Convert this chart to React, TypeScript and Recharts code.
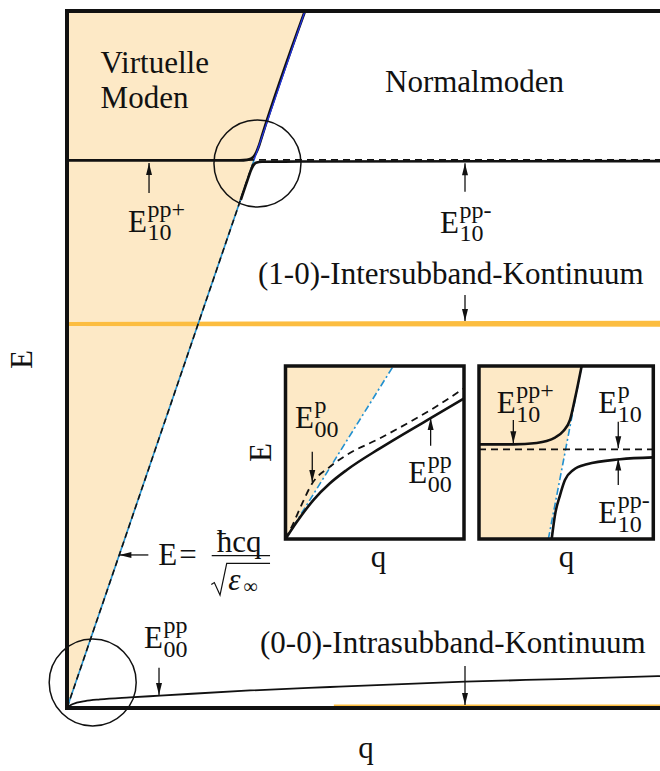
import React from "react";
import { ComposedChart, Line, Area, Scatter, XAxis, YAxis } from "recharts";

const FONT = "'Liberation Serif', 'Times New Roman', serif";
const INK = "#111";
const ORANGE_FILL = "#FDE9C6";
const ORANGE_LINE = "#FCBD40";
const LIGHT_BLUE = "#2190D0";
const DEEP_BLUE = "#2233E0";

// ---------- main panel: q in [0, 6], E in [0, 7] ----------
const Q_MAX = 6;
const E_MAX = 7;

const virtualRegion = [
  { q: 0, band: [0, 7] },
  { q: 2.408, band: [7, 7] },
];
const interBandEdge = [
  { q: 0, band: [3.837, 3.877] },
  { q: 6, band: [3.829, 3.889] },
];
const intraBandEdge = [
  { q: 2.7, band: [0, 0.035] },
  { q: 6, band: [0, 0.035] },
];

const lightLineLow = [
  { q: 0, E: 0 },
  { q: 1.893, E: 5.504 },
];
const lightLineHigh = [
  { q: 1.893, E: 5.504 },
  { q: 2.408, E: 7 },
];
const photonLine = [
  { q: 0, E: 0 },
  { q: 1.88, E: 5.465 },
];
const plasmon10 = [
  { q: 0, E: 5.504 },
  { q: 6, E: 5.504 },
];
const upperBranch10 = [
  { q: 0, E: 5.499 },
  { q: 1.75, E: 5.499 },
  { q: 1.821, E: 5.504 },
  { q: 1.862, E: 5.516 },
  { q: 1.892, E: 5.541 },
  { q: 1.917, E: 5.584 },
  { q: 1.943, E: 5.649 },
  { q: 1.973, E: 5.745 },
  { q: 2.408, E: 7 },
];
const lowerBranch10 = [
  { q: 1.758, E: 5.102 },
  { q: 1.823, E: 5.293 },
  { q: 1.866, E: 5.412 },
  { q: 1.885, E: 5.448 },
  { q: 1.912, E: 5.476 },
  { q: 1.973, E: 5.486 },
  { q: 2.358, E: 5.488 },
  { q: 6, E: 5.492 },
];
const branch00 = [
  { q: 0, E: 0 },
  { q: 0.03, E: 0.025 },
  { q: 0.098, E: 0.053 },
  { q: 0.182, E: 0.07 },
  { q: 0.334, E: 0.087 },
  { q: 0.637, E: 0.107 },
  { q: 0.941, E: 0.124 },
  { q: 1.852, E: 0.176 },
  { q: 2.661, E: 0.211 },
  { q: 4.027, E: 0.264 },
  { q: 4.989, E: 0.291 },
  { q: 6, E: 0.321 },
];
const mainFrame = [
  { q: 6, E: 7 },
  { q: 0, E: 7 },
  { q: 0, E: 0 },
  { q: 6, E: 0 },
];

const arrowPP10Plus = [
  { q: 0.83, E: 5.172 },
  { q: 0.83, E: 5.474, dir: "up" },
];
const arrowPP10Minus = [
  { q: 4.027, E: 5.185 },
  { q: 4.027, E: 5.471, dir: "up" },
];
const arrowInter = [
  { q: 4.027, E: 4.148 },
  { q: 4.027, E: 3.887, dir: "down" },
];
const arrowPP00 = [
  { q: 0.931, E: 0.405 },
  { q: 0.931, E: 0.131, dir: "down" },
];
const arrowIntra = [
  { q: 4.027, E: 0.422 },
  { q: 4.027, E: 0.03, dir: "down" },
];
const arrowLight = [
  { q: 0.823, E: 1.537 },
  { q: 0.53, E: 1.537, dir: "left" },
];

const focusCircles = [
  { q: 1.927, E: 5.468 },
  { q: 0.26, E: 0.256 },
];

const mainTexts = [
  { q: 0.34, E: 6.374, text: "Virtuelle" },
  { q: 0.34, E: 6.023, text: "Moden" },
  { q: 3.218, E: 6.19, text: "Normalmoden" },
  { q: 1.933, E: 4.258, text: "(1-0)-Intersubband-Kontinuum" },
  { q: 1.953, E: 0.549, text: "(0-0)-Intrasubband-Kontinuum" },
];
const mainEnergyLabels = [
  { q: 0.617, E: 4.781, sup: "pp+", sub: "10" },
  { q: 3.774, E: 4.774, sup: "pp-", sub: "10" },
  { q: 0.779, E: 0.6, sup: "pp", sub: "00" },
];
const lightFormula = [{ q: 0.924, E: 1.436 }];

// ---------- inset panels: q in [0, 1], E in [0, 1] ----------
const insetFrame = [
  { q: 0, E: 0 },
  { q: 0, E: 1 },
  { q: 1, E: 1 },
  { q: 1, E: 0 },
  { q: 0, E: 0 },
];

const leftVirtual = [
  { q: 0, band: [0, 1] },
  { q: 0.604, band: [1, 1] },
];
const leftLight = [
  { q: 0, E: 0 },
  { q: 0.604, E: 1 },
];
const leftPlasmon00 = [
  { q: 0, E: 0 },
  { q: 0.044, E: 0.091 },
  { q: 0.081, E: 0.177 },
  { q: 0.15, E: 0.322 },
  { q: 0.249, E: 0.418 },
  { q: 0.343, E: 0.486 },
  { q: 0.529, E: 0.582 },
  { q: 0.716, E: 0.688 },
  { q: 0.813, E: 0.746 },
  { q: 1, E: 0.871 },
];
const leftPolariton00 = [
  { q: 0, E: 0 },
  { q: 0.063, E: 0.098 },
  { q: 0.156, E: 0.225 },
  { q: 0.249, E: 0.322 },
  { q: 0.343, E: 0.399 },
  { q: 0.529, E: 0.524 },
  { q: 0.716, E: 0.64 },
  { q: 0.813, E: 0.698 },
  { q: 1, E: 0.813 },
];
const leftLabels = [
  { q: 0.053, E: 0.64, sup: "p", sub: "00" },
  { q: 0.688, E: 0.322, sup: "pp", sub: "00" },
];
const leftArrowP = [
  { q: 0.15, E: 0.505 },
  { q: 0.15, E: 0.33, dir: "down" },
];
const leftArrowPP = [
  { q: 0.813, E: 0.539 },
  { q: 0.813, E: 0.7, dir: "up" },
];

const rightVirtual = [
  { q: 0, band: [0, 1] },
  { q: 0.398, band: [0, 1] },
  { q: 0.589, band: [1, 1] },
];
const rightLight = [
  { q: 0.398, E: 0 },
  { q: 0.589, E: 1 },
];
const rightPlasmon10 = [
  { q: 0, E: 0.518 },
  { q: 1, E: 0.518 },
];
const rightUpper10 = [
  { q: 0, E: 0.547 },
  { q: 0.197, E: 0.547 },
  { q: 0.331, E: 0.555 },
  { q: 0.388, E: 0.566 },
  { q: 0.436, E: 0.586 },
  { q: 0.484, E: 0.624 },
  { q: 0.522, E: 0.688 },
  { q: 0.551, E: 0.813 },
  { q: 0.589, E: 1 },
];
const rightLower10 = [
  { q: 0.417, E: 0 },
  { q: 0.436, E: 0.139 },
  { q: 0.465, E: 0.254 },
  { q: 0.493, E: 0.341 },
  { q: 0.541, E: 0.399 },
  { q: 0.618, E: 0.432 },
  { q: 0.809, E: 0.461 },
  { q: 1, E: 0.472 },
];
const rightLabels = [
  { q: 0.102, E: 0.727, sup: "pp+", sub: "10" },
  { q: 0.684, E: 0.727, sup: "p", sub: "10" },
  { q: 0.684, E: 0.091, sup: "pp-", sub: "10" },
];
const rightArrowPlus = [
  { q: 0.197, E: 0.688 },
  { q: 0.197, E: 0.553, dir: "down" },
];
const rightArrowP = [
  { q: 0.799, E: 0.678 },
  { q: 0.799, E: 0.524, dir: "down" },
];
const rightArrowMinus = [
  { q: 0.799, E: 0.312 },
  { q: 0.799, E: 0.466, dir: "up" },
];

// ---------- drawing helpers ----------
const textStyle = { fontFamily: FONT, fontSize: 31, fill: INK };

const ArrowHead = (p: any) => {
  const { cx, cy, payload, index } = p;
  if (!payload || !payload.dir || cx == null || cy == null) return <g key={`ah${index}`} />;
  const L = 12;
  const W = 3;
  let d = "";
  if (payload.dir === "up") d = `M${cx},${cy} L${cx - W},${cy + L} L${cx + W},${cy + L} Z`;
  else if (payload.dir === "down") d = `M${cx},${cy} L${cx - W},${cy - L} L${cx + W},${cy - L} Z`;
  else d = `M${cx},${cy} L${cx + L},${cy - W} L${cx + L},${cy + W} Z`;
  return <path key={`ah${index}`} d={d} fill={INK} stroke="none" />;
};

const PlainText = (p: any) => (
  <text x={p.cx} y={p.cy} fontFamily={FONT} style={textStyle}>
    {p.payload.text}
  </text>
);

const EnergyLabel = (p: any) => (
  <g fontFamily={FONT}>
    <text x={p.cx} y={p.cy} style={textStyle}>
      E
    </text>
    <text x={p.cx + 19.5} y={p.cy - 15} style={{ ...textStyle, fontSize: 24 }}>
      {p.payload.sup}
    </text>
    <text x={p.cx + 19.5} y={p.cy + 8.5} style={{ ...textStyle, fontSize: 24 }}>
      {p.payload.sub}
    </text>
  </g>
);

const FormulaMark = (p: any) => {
  const x = p.cx;
  const y = p.cy;
  return (
    <g fontFamily={FONT}>
      <text x={x} y={y} style={textStyle}>
        E
      </text>
      <text x={x + 21} y={y} style={textStyle}>
        =
      </text>
      <text x={x + 58.4} y={y - 13.3} style={textStyle}>
        ħcq
      </text>
      <line x1={x + 53.4} x2={x + 111.7} y1={y - 9.3} y2={y - 9.3} stroke={INK} strokeWidth={1.3} />
      <path
        d={`M${x + 53},${y + 19.5} L${x + 56},${y + 17.5} L${x + 61.7},${y + 30} L${x + 68.4},${y - 1.7} L${x + 111.7},${y - 1.7}`}
        fill="none"
        stroke={INK}
        strokeWidth={1.2}
      />
      <text x={x + 70} y={y + 25} style={{ ...textStyle, fontStyle: "italic" }}>
        ε
      </text>
      <text x={x + 85} y={y + 28} style={{ ...textStyle, fontSize: 20 }}>
        ∞
      </text>
    </g>
  );
};

const CircleMark = (p: any) => (
  <circle cx={p.cx} cy={p.cy} r={43.5} fill="none" stroke={INK} strokeWidth={1.5} />
);

const rangeArea = (data: any[], fill: string, key: string) => (
  <Area
    key={key}
    data={data}
    dataKey="band"
    type="linear"
    fill={fill}
    fillOpacity={1}
    stroke="none"
    dot={false}
    activeDot={false}
    isAnimationActive={false}
  />
);

const curve = (
  data: any[],
  key: string,
  stroke: string,
  width: number,
  dash?: string,
  type: "monotone" | "linear" = "monotone"
) => (
  <Line
    key={key}
    data={data}
    dataKey="E"
    type={type}
    stroke={stroke}
    strokeWidth={width}
    strokeDasharray={dash}
    dot={false}
    activeDot={false}
    isAnimationActive={false}
  />
);

const arrow = (data: any[], key: string) => (
  <Line
    key={key}
    data={data}
    dataKey="E"
    type="linear"
    stroke={INK}
    strokeWidth={1.3}
    dot={ArrowHead}
    activeDot={false}
    isAnimationActive={false}
  />
);

const marks = (data: any[], key: string, shape: any) => (
  <Scatter key={key} data={data} dataKey="E" shape={shape} isAnimationActive={false} />
);

const frame = (data: any[], key: string, width: number) => (
  <Line
    key={key}
    data={data}
    dataKey="E"
    type="linear"
    stroke={INK}
    strokeWidth={width}
    strokeLinejoin="miter"
    strokeLinecap="square"
    dot={false}
    activeDot={false}
    isAnimationActive={false}
  />
);

const rotatedE = (dx: number) => (props: any) => {
  const vb = props.viewBox || {};
  const x = (vb.x || 0) + dx;
  const y = (vb.y || 0) + (vb.height || 0) / 2;
  return (
    <text
      x={x}
      y={y}
      transform={`rotate(-90 ${x} ${y})`}
      textAnchor="middle"
      dominantBaseline="central"
      fontFamily={FONT}
      style={textStyle}
    >
      E
    </text>
  );
};

const bottomQ = (dx: number, dy: number) => (props: any) => {
  const vb = props.viewBox || {};
  const x = (vb.x || 0) + (vb.width || 0) / 2 + dx;
  const y = (vb.y || 0) + dy;
  return (
    <text x={x} y={y} textAnchor="middle" fontFamily={FONT} style={textStyle}>
      q
    </text>
  );
};

function LeftInset() {
  return (
    <div style={{ position: "absolute", left: 240, top: 361 }}>
      <ComposedChart width={230} height={222} margin={{ top: 5, right: 6, bottom: 4, left: 0 }}>
        <XAxis
          type="number"
          dataKey="q"
          domain={[0, 1]}
          height={40}
          tick={false}
          tickLine={false}
          axisLine={false}
          label={{ content: bottomQ(3.75, 28) }}
        />
        <YAxis
          type="number"
          dataKey="E"
          domain={[0, 1]}
          width={45.5}
          tick={false}
          tickLine={false}
          axisLine={false}
          label={{ content: rotatedE(20.5) }}
        />
        {rangeArea(leftVirtual, ORANGE_FILL, "lv")}
        {curve(leftLight, "ll", LIGHT_BLUE, 1.6, "7 3 2 3", "linear")}
        {curve(leftPlasmon00, "lp", INK, 1.8, "7 5")}
        {curve(leftPolariton00, "lpp", INK, 2.6)}
        {arrow(leftArrowP, "la1")}
        {arrow(leftArrowPP, "la2")}
        {marks(leftLabels, "llab", EnergyLabel)}
        {frame(insetFrame, "lf", 3.5)}
      </ComposedChart>
    </div>
  );
}

function RightInset() {
  return (
    <div style={{ position: "absolute", left: 474, top: 361 }}>
      <ComposedChart width={186} height={222} margin={{ top: 5, right: 6.7, bottom: 4, left: 5 }}>
        <XAxis
          type="number"
          dataKey="q"
          domain={[0, 1]}
          height={40}
          tick={false}
          tickLine={false}
          axisLine={false}
          label={{ content: bottomQ(0.35, 28) }}
        />
        <YAxis type="number" dataKey="E" domain={[0, 1]} hide />
        {rangeArea(rightVirtual, ORANGE_FILL, "rv")}
        {curve(rightLight, "rl", LIGHT_BLUE, 1.6, "7 3 2 3", "linear")}
        {curve(rightPlasmon10, "rp", INK, 1.8, "7 5", "linear")}
        {curve(rightUpper10, "ru", INK, 2.6)}
        {curve(rightLower10, "rlo", INK, 2.6)}
        {arrow(rightArrowPlus, "ra1")}
        {arrow(rightArrowP, "ra2")}
        {arrow(rightArrowMinus, "ra3")}
        {marks(rightLabels, "rlab", EnergyLabel)}
        {frame(insetFrame, "rf", 3.5)}
      </ComposedChart>
    </div>
  );
}

export default function App() {
  return (
    <div
      style={{
        position: "absolute",
        left: 0,
        top: 0,
        width: 660,
        height: 771,
        background: "#fff",
        overflow: "hidden",
      }}
    >
      <ComposedChart width={660} height={771} margin={{ top: 11, right: 0, bottom: 0, left: 0 }}>
        <XAxis
          type="number"
          dataKey="q"
          domain={[0, Q_MAX]}
          height={63}
          tick={false}
          tickLine={false}
          axisLine={false}
          label={{ content: bottomQ(2.5, 50) }}
        />
        <YAxis
          type="number"
          dataKey="E"
          domain={[0, E_MAX]}
          width={67}
          tick={false}
          tickLine={false}
          axisLine={false}
          label={{ content: rotatedE(21) }}
        />
        {rangeArea(virtualRegion, ORANGE_FILL, "virt")}
        {rangeArea(interBandEdge, ORANGE_LINE, "inter")}
        {rangeArea(intraBandEdge, ORANGE_LINE, "intra")}
        {curve(lightLineLow, "lightLow", LIGHT_BLUE, 1.6, undefined, "linear")}
        {curve(photonLine, "photon", INK, 1.6, "6 4", "linear")}
        {curve(plasmon10, "p10", INK, 1.8, "7 5", "linear")}
        {curve(lowerBranch10, "lower10", INK, 2.6)}
        {curve(upperBranch10, "upper10", INK, 2.8)}
        {curve(lightLineHigh, "lightHigh", DEEP_BLUE, 1.3, undefined, "linear")}
        {curve(branch00, "b00", INK, 1.8)}
        {arrow(arrowPP10Plus, "a1")}
        {arrow(arrowPP10Minus, "a2")}
        {arrow(arrowInter, "a3")}
        {arrow(arrowPP00, "a4")}
        {arrow(arrowIntra, "a5")}
        {arrow(arrowLight, "a6")}
        {marks(focusCircles, "circ", CircleMark)}
        {marks(mainTexts, "txt", PlainText)}
        {marks(mainEnergyLabels, "elab", EnergyLabel)}
        {marks(lightFormula, "formula", FormulaMark)}
        {frame(mainFrame, "frame", 4)}
      </ComposedChart>
      <LeftInset />
      <RightInset />
    </div>
  );
}
